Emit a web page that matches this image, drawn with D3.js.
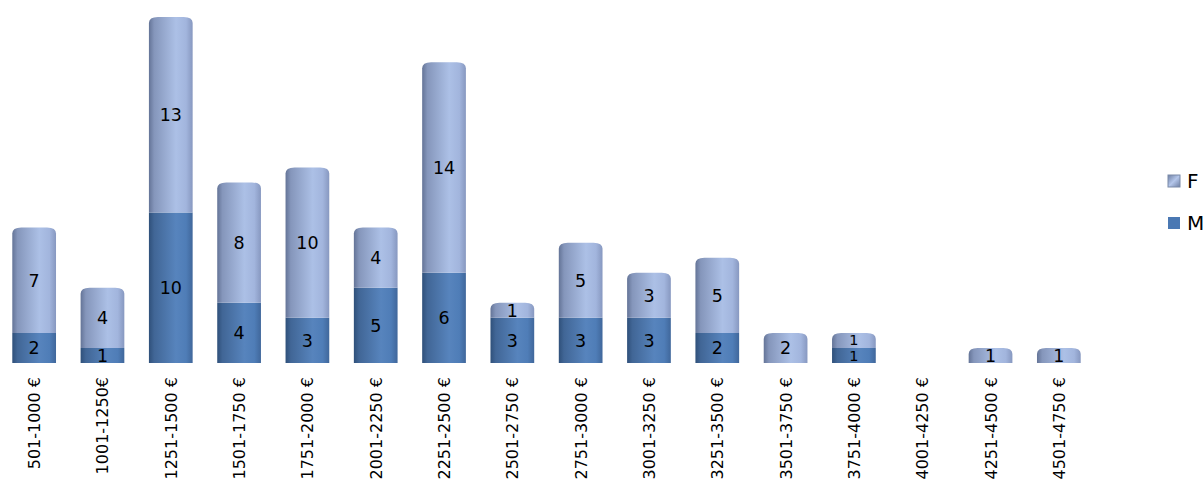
<!DOCTYPE html>
<html><head><meta charset="utf-8">
<script src="https://cdn.jsdelivr.net/npm/d3@7"></script>
<style>body{margin:0;background:#fff}svg{display:block}text{font-family:"DejaVu Sans",Verdana,sans-serif;fill:#000}</style>
</head><body><svg id="c" width="1204" height="479"></svg>
<script>
const categories = ["501-1000 €","1001-1250€","1251-1500 €","1501-1750 €","1751-2000 €","2001-2250 €","2251-2500 €","2501-2750 €","2751-3000 €","3001-3250 €","3251-3500 €","3501-3750 €","3751-4000 €","4001-4250 €","4251-4500 €","4501-4750 €"];
const seriesNames = ["M","F"];
const valuesM = [2,1,10,4,3,5,6,3,3,3,2,0,1,0,0,0];
const valuesF = [7,4,13,8,10,4,14,1,5,3,5,2,1,0,1,1];

const svg = d3.select("#c");
const defs = svg.append("defs");
function grad(id, stops){
  const g = defs.append("linearGradient").attr("id",id).attr("x1","0").attr("x2","1").attr("y1","0").attr("y2","0");
  stops.forEach(s=>g.append("stop").attr("offset",s[0]).attr("stop-color",s[1]));
}
grad("gF",[[0,"#647497"],[0.12,"#8596bb"],[0.62,"#acc0e6"],[0.85,"#a2b5dd"],[1,"#8798c0"]]);
grad("gM",[[0,"#2f507a"],[0.12,"#416696"],[0.62,"#5784bd"],[0.85,"#4f7db7"],[1,"#40679b"]]);
const lg = defs.append("linearGradient").attr("id","gLeg").attr("x1","0").attr("x2","1").attr("y1","0").attr("y2","1");
lg.append("stop").attr("offset",0).attr("stop-color","#6e7fa3");
lg.append("stop").attr("offset",0.5).attr("stop-color","#b4c6ea");
lg.append("stop").attr("offset",1).attr("stop-color","#6e7fa3");

const x = d3.scaleBand().domain(categories).range([0,1093]).paddingInner(0.36).paddingOuter(0.18);
const y = d3.scaleLinear().domain([0,23]).range([363,17]);

const data = categories.map((c,i)=>({c, M:valuesM[i], F:valuesF[i]}));
const stack = d3.stack().keys(seriesNames)(data);
const fills = {M:"url(#gM)", F:"url(#gF)"};

function segPath(x0,w,yTop,yBot,rounded){
  const rx = Math.min(9,w/2), ry = Math.min(6,(yBot-yTop));
  if(!rounded) return `M${x0},${yBot}V${yTop}H${x0+w}V${yBot}Z`;
  return `M${x0},${yBot}V${yTop+ry}Q${x0},${yTop} ${x0+rx},${yTop}H${x0+w-rx}Q${x0+w},${yTop} ${x0+w},${yTop+ry}V${yBot}Z`;
}

const g = svg.append("g");
stack.forEach((layer,li)=>{
  layer.forEach((d,i)=>{
    if(d[1]-d[0] <= 0) return;
    const total = valuesM[i]+valuesF[i];
    const isTop = d[1] === total;
    const x0 = x(categories[i]), w = x.bandwidth();
    g.append("path").attr("d", segPath(x0,w,y(d[1]),y(d[0]),isTop)).attr("fill", fills[layer.key]);
  });
});
// labels
stack.forEach(layer=>{
  layer.forEach((d,i)=>{
    const v = d[1]-d[0];
    if(v<=0) return;
    let cy = (y(d[0])+y(d[1]))/2;
    let fs = 17.5;
    const tight = valuesM[i]===1 && valuesF[i]===1;
    if(tight){ fs = 14.5; cy += layer.key==="F" ? -0.5 : 0.5; }
    g.append("text").attr("x", x(categories[i])+x.bandwidth()/2).attr("y",cy)
      .attr("text-anchor","middle").attr("dy","0.36em").attr("font-size",fs).text(v);
  });
});
// category axis labels
const xa = svg.append("g");
categories.forEach(c=>{
  const cx = x(c)+x.bandwidth()/2;
  xa.append("text").attr("transform",`translate(${cx+6},377) rotate(-90)`).attr("text-anchor","end")
    .attr("font-size",16).text(c);
});
// legend
const legend = [{k:"F",y:181,fill:"url(#gLeg)"},{k:"M",y:223,fill:"#4a78b3"}];
legend.forEach(l=>{
  svg.append("rect").attr("x",1168).attr("y",l.y-6).attr("width",12).attr("height",12).attr("fill",l.fill)
    .attr("stroke", l.k==="F"?"#7a8aa8":"none").attr("stroke-width",1);
  svg.append("text").attr("x",1187).attr("y",l.y).attr("dy","0.36em").attr("font-size",20).text(l.k);
});
</script></body></html>
